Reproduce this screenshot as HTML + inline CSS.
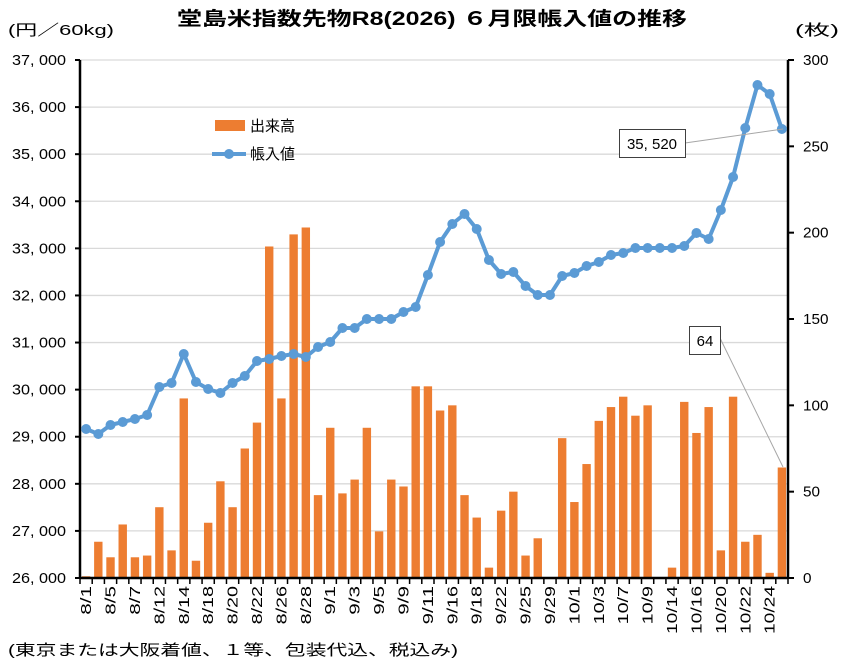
<!DOCTYPE html>
<html><head><meta charset="utf-8"><style>
html,body{margin:0;padding:0;background:#fff;}
svg{display:block;font-family:"Liberation Sans","Noto Sans CJK JP",sans-serif;}
</style></head><body>
<svg width="848" height="665" viewBox="0 0 848 665" xmlns="http://www.w3.org/2000/svg">
<rect width="848" height="665" fill="#fff"/>
<text x="432" y="25" text-anchor="middle" font-size="19" font-weight="bold" textLength="510" lengthAdjust="spacingAndGlyphs">堂島米指数先物R8(2026) ６月限帳入値の推移</text>
<text x="8" y="35" font-size="15" textLength="106" lengthAdjust="spacingAndGlyphs">(円／60kg)</text>
<text x="795" y="35" font-size="15" textLength="44" lengthAdjust="spacingAndGlyphs">(枚)</text>
<g id="grid" stroke="#d9d9d9" stroke-width="1.3"></g>
<g id="bars" fill="#ed7d31"></g>
<g id="axes"></g>
<g id="line"></g>
<g id="labels" font-size="15"></g>
<rect x="215" y="120" width="30" height="11" fill="#ed7d31"/>
<text x="250" y="131" font-size="15">出来高</text>
<line x1="212" y1="154" x2="246" y2="154" stroke="#5b9bd5" stroke-width="4"/>
<circle cx="229" cy="154" r="5" fill="#5b9bd5"/>
<text x="250" y="159" font-size="15">帳入値</text>
<line x1="685" y1="143" x2="783" y2="129" stroke="#a6a6a6" stroke-width="1"/>
<rect x="619.5" y="129.5" width="66" height="28" fill="#fff" stroke="#404040"/>
<text x="652" y="149" font-size="15" text-anchor="middle">35, 520</text>
<line x1="720" y1="338" x2="783" y2="467" stroke="#a6a6a6" stroke-width="1"/>
<rect x="689.5" y="326.5" width="31" height="28" fill="#fff" stroke="#404040"/>
<text x="705" y="346" font-size="15" text-anchor="middle">64</text>
<text x="8" y="655" font-size="15" textLength="450" lengthAdjust="spacingAndGlyphs">(東京または大阪着値、１等、包装代込、税込み)</text>
</svg>
<script>
const ns="http://www.w3.org/2000/svg";
function el(p,t,a,txt){const e=document.createElementNS(ns,t);for(const k in a)e.setAttribute(k,a[k]);if(txt!==undefined)e.textContent=txt;document.getElementById(p).appendChild(e);return e;}
const L=80,R=788,T=60,B=578,N=58,cw=(R-L)/N;
for(let i=0;i<=11;i++){const y=T+(B-T)*i/11;if(i<11)el("grid","line",{x1:L,x2:R,y1:y,y2:y});
 const v=37000-i*1000;el("labels","text",{x:66,y:y+5,"text-anchor":"end",textLength:54,lengthAdjust:"spacingAndGlyphs"},String(v).slice(0,2)+", "+String(v).slice(2));}
for(let i=0;i<=6;i++){const y=T+(B-T)*i/6;const s=String(300-i*50);el("labels","text",{x:803,y:y+5,textLength:s.length*8.5,lengthAdjust:"spacingAndGlyphs"},s);
 el("axes","line",{x1:R,x2:R+6,y1:y,y2:y,stroke:"#000","stroke-width":2});}
for(let i=0;i<=11;i++){const y=T+(B-T)*i/11;el("axes","line",{x1:L-5,x2:L,y1:y,y2:y,stroke:"#000","stroke-width":2});}
const bars=[1,21,12,31,12,13,41,16,104,10,32,56,41,75,90,192,104,199,203,48,87,49,57,87,27,57,53,111,111,97,100,48,35,6,39,50,13,23,0,81,44,66,91,99,105,94,100,0,6,102,84,99,16,105,21,25,3,64];
bars.forEach((v,i)=>{const h=v*(B-T)/300;if(h>0)el("bars","rect",{x:L+cw*(i+0.5)-4.2,y:B-h,width:8.4,height:h});});
el("axes","line",{x1:L,x2:L,y1:T,y2:B+1,stroke:"#000","stroke-width":2.5});
el("axes","line",{x1:R,x2:R,y1:T,y2:B+1,stroke:"#000","stroke-width":2.5});
el("axes","line",{x1:L,x2:R,y1:B,y2:B,stroke:"#000","stroke-width":2.5});
for(let i=0;i<=N;i++){const x=L+cw*i;el("axes","line",{x1:x,x2:x,y1:B,y2:B+6,stroke:"#000","stroke-width":1.5});}
const ly=[429,434,425,422,419,415,387,383,354,382,389,393,383,376,361,359,356,354,357,347,342,328,328,319,319,319,312,307,275,242,224,214,229,260,274,272,286,295,295,276,273,266,262,255,253,248,248,248,248,246,233,239,210,177,128,85,94,129];
const pts=ly.map((y,i)=>[L+cw*(i+0.5),y]);
el("line","polyline",{points:pts.map(p=>p.join(",")).join(" "),fill:"none",stroke:"#5b9bd5","stroke-width":4,"stroke-linejoin":"round"});
pts.forEach(p=>el("line","circle",{cx:p[0],cy:p[1],r:5,fill:"#5b9bd5"}));
const labs=["8/1","8/5","8/7","8/12","8/14","8/18","8/20","8/22","8/26","8/28","9/1","9/3","9/5","9/9","9/11","9/16","9/18","9/22","9/25","9/29","10/1","10/3","10/7","10/9","10/14","10/16","10/20","10/22","10/24"];
labs.forEach((t,k)=>{const x=L+cw*(2*k+0.5)+5;el("labels","text",{x:0,y:0,"text-anchor":"end","font-size":"15",textLength:t.length*9.6,lengthAdjust:"spacingAndGlyphs",transform:`translate(${x},586) rotate(-90)`},t);});
</script>
</body></html>
